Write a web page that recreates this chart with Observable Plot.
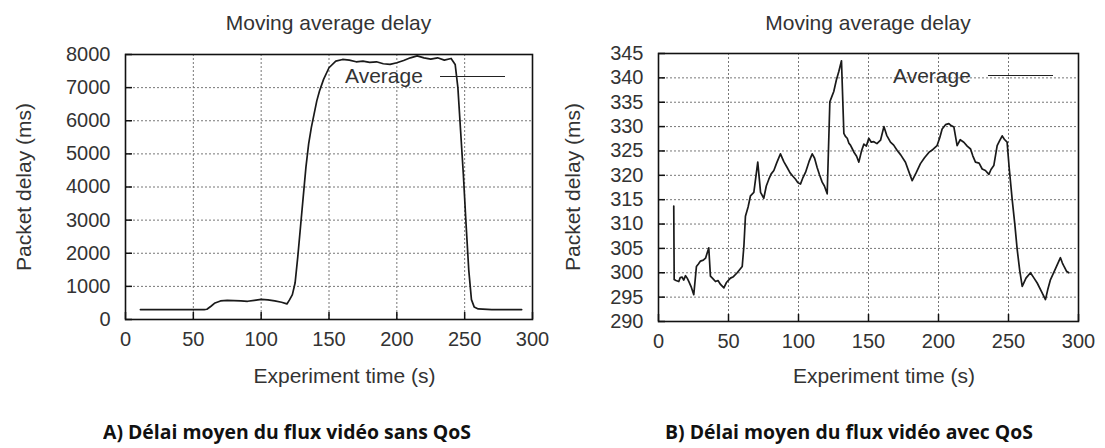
<!DOCTYPE html>
<html>
<head>
<meta charset="utf-8">
<script src="https://cdn.jsdelivr.net/npm/d3@7"></script>
<script src="https://cdn.jsdelivr.net/npm/@observablehq/plot@0.6"></script>
<style>
  html, body { margin: 0; padding: 0; background: #fff; }
  #wrap { position: relative; width: 1105px; height: 448px; overflow: hidden; font-family: "Liberation Sans", Arial, sans-serif; }
  .panel { position: absolute; top: 0; }
  .lbl { position: absolute; font-size: 21px; line-height: 21px; color: #333; white-space: nowrap; }
  .caption { position: absolute; top: 419px; font-family: "Open Sans", "Noto Sans", sans-serif; font-weight: 700; font-size: 19px; color: #111; white-space: nowrap; transform-origin: 0 0; }
  .legline { position: absolute; height: 0; border-top: 1.6px solid #222; }
</style>
</head>
<body>
<div id="wrap"></div>
<script>
// ---- data ----
const chartTitle = "Moving average delay";
const xLabel = "Experiment time (s)";
const yLabel = "Packet delay (ms)";
const legendLabel = "Average";
const captionA = "A)  Délai moyen du flux vidéo sans QoS";
const captionB = "B)  Délai moyen du flux vidéo avec QoS";

const xTicks = [0, 50, 100, 150, 200, 250, 300];
const yTicksA = [0, 1000, 2000, 3000, 4000, 5000, 6000, 7000, 8000];
const yTicksB = [290, 295, 300, 305, 310, 315, 320, 325, 330, 335, 340, 345];

// Panel A: without QoS
const timeA = [11, 30, 50, 58, 60, 63, 66, 70, 75, 80, 85, 90, 95, 100, 105, 110, 115, 119,
  121, 123, 125, 127, 129, 131, 133, 135, 137, 139, 141, 143, 146, 150, 155, 160, 165, 170,
  175, 180, 185, 190, 195, 200, 205, 210, 215, 220, 225, 230, 235, 240, 243, 245, 247, 249,
  251, 253, 255, 257, 260, 270, 280, 292];
const delayA = [300, 300, 300, 300, 310, 400, 500, 560, 580, 570, 560, 550, 580, 610, 590, 560, 520, 470,
  600, 750, 1100, 1900, 2800, 3700, 4600, 5300, 5800, 6200, 6600, 6900, 7250, 7600, 7800, 7850, 7830, 7780,
  7800, 7760, 7780, 7720, 7700, 7750, 7820, 7900, 7960, 7900, 7860, 7900, 7830, 7880, 7700, 7000, 5700, 4400,
  2900, 1500, 600, 380, 320, 300, 300, 300];

// Panel B: with QoS
const timeB = [10.9, 11.2, 12.5, 14.5, 15.5, 16.9, 18, 19.3, 20.5, 21.7, 23.5, 25.2, 27.1, 28.5, 30, 32, 33.6, 35.9,
  37.1, 38.5, 40.7, 42.5, 44.3, 46.7, 48.5, 51.4, 53.5, 56.2, 59.8, 61, 62.1, 64, 65.7, 68.1, 70.9, 72.9,
  75.2, 77, 78.8, 80.5, 82.4, 84.5, 87.1, 89.5, 91.9, 94, 96, 97.9, 99.5, 101.4, 103, 105, 107.5, 109.8, 111.5,
  113.3, 115, 116.9, 118.5, 120.5, 122.4, 124, 125.2, 127, 128.8, 130.7, 132.4, 133.5, 134.8, 136, 137.1, 138.5,
  139.5, 141.5, 143.1, 145, 146.7, 148.5, 150.2, 152, 153.8, 156, 158.6, 161, 163, 165.7, 168, 170.5, 173,
  176.4, 179, 181.2, 184, 187.1, 190, 193.1, 196, 199, 201, 202.6, 205, 207.4, 209, 211, 213.3, 215.5, 218.1,
  220.5, 222.9, 224.5, 226.4, 229, 231.2, 233.5, 236, 237.5, 239.5, 241.9, 243.5, 245.5, 247, 249, 250.5,
  252.6, 254.5, 256.2, 258, 259.8, 262.5, 265.7, 268, 270.5, 273.5, 276.4, 278, 280, 283.5, 287.1, 288.5,
  289.5, 291.5, 293.1];
const delayB = [313.7, 298.6, 298.4, 298.2, 299.0, 299.1, 298.5, 299.4, 298.9, 298.2, 297.0, 295.5, 301.3, 301.8, 302.4, 302.6, 303.0, 305.1,
  299.3, 298.9, 298.2, 298.4, 297.6, 296.9, 298.0, 298.9, 299.2, 300.0, 301.3, 305.5, 311.6, 313.5, 315.8, 316.5, 322.7, 316.5,
  315.3, 317.8, 319.2, 320.3, 321.0, 322.6, 324.4, 322.8, 321.6, 320.5, 319.8, 319.2, 318.5, 318.2, 319.4, 320.6, 322.8, 324.4, 323.5,
  321.6, 320.1, 318.6, 317.8, 316.2, 335.1, 336.3, 337.2, 339.5, 341.3, 343.5, 328.6, 328.0, 327.6, 326.6, 326.2, 325.4,
  324.8, 323.9, 322.7, 325.0, 326.4, 326.0, 327.6, 326.8, 326.9, 326.5, 327.2, 330.0, 328.2, 326.8, 326.2, 325.1, 324.2,
  322.7, 320.6, 318.9, 320.5, 322.4, 323.6, 324.7, 325.3, 326.1, 327.8, 329.5, 330.4, 330.6, 330.2, 329.9, 326.1, 327.3, 326.8,
  326.0, 325.4, 324.0, 322.7, 322.5, 321.3, 321.0, 320.2, 321.2, 322.0, 326.1, 327.0, 328.1, 327.4, 326.8, 321.5,
  315.1, 310.0, 304.8, 300.5, 297.2, 298.9, 300.0, 299.0, 297.9, 296.2, 294.5, 296.5, 298.6, 300.8, 303.1, 302.0,
  301.4, 300.3, 300.0];

// ---- drawing ----
const wrap = document.getElementById("wrap");

function addLabel(text, left, top, transform) {
  const d = document.createElement("div");
  d.className = "lbl";
  d.textContent = text;
  d.style.left = left + "px";
  d.style.top = top + "px";
  if (transform) d.style.transform = transform;
  wrap.appendChild(d);
  return d;
}

function panel({time, delay, yTicks, yDomain, width, height, margins, left}) {
  const fw = width - margins.left - margins.right;
  const fh = height - margins.top - margins.bottom;
  const data = time.map((t, i) => ({t, v: delay[i]}));
  const gx = xTicks.slice(1, -1).map(d => ({d}));
  const gy = yTicks.slice(1, -1).map(d => ({d}));
  const tx = xTicks.map(d => ({d}));
  const ty = yTicks.map(d => ({d}));
  const gridStyle = {stroke: "#777", strokeOpacity: 1, strokeWidth: 1, strokeDasharray: "2,2"};
  const tickStyle = {stroke: "#111", strokeOpacity: 1, strokeWidth: 1.5};
  const chart = Plot.plot({
    width, height,
    marginLeft: margins.left, marginRight: margins.right,
    marginTop: margins.top, marginBottom: margins.bottom,
    style: {fontFamily: "Liberation Sans", fontSize: "20px", color: "#333", background: "transparent", overflow: "visible"},
    x: {domain: [0, 300]},
    y: {domain: yDomain},
    marks: [
      Plot.ruleX(gx, {x: "d", ...gridStyle}),
      Plot.ruleY(gy, {y: "d", ...gridStyle}),
      Plot.tickX(tx, {x: "d", insetTop: fh - 7, ...tickStyle}),
      Plot.tickY(ty, {y: "d", insetRight: fw - 7, ...tickStyle}),
      Plot.line(data, {x: "t", y: "v", stroke: "#1a1a1a", strokeWidth: 1.7}),
      Plot.frame({stroke: "#111", strokeWidth: 1.6}),
      Plot.axisX({ticks: xTicks, tickSize: 0, tickPadding: 12, label: null, fontSize: 20, tickFormat: d => String(d)}),
      Plot.axisY({ticks: yTicks, tickSize: 0, tickPadding: 15, fontSize: 20, label: null, tickFormat: d => String(d)})
    ]
  });
  const div = document.createElement("div");
  div.className = "panel";
  div.style.left = left + "px";
  div.appendChild(chart);
  wrap.appendChild(div);
  return {x0: left + margins.left, x1: left + width - margins.right, y0: margins.top, y1: height - margins.bottom};
}

const A = panel({time: timeA, delay: delayA, yTicks: yTicksA, yDomain: [0, 8000], width: 552, height: 400,
       margins: {left: 125, right: 20, top: 54, bottom: 81}, left: 0});
const B = panel({time: timeB, delay: delayB, yTicks: yTicksB, yDomain: [290, 345], width: 553, height: 400,
       margins: {left: 106, right: 27, top: 53, bottom: 79}, left: 552});

// titles, axis labels, legends (real text)
[[A, 23, 345], [B, 572, 893]].forEach(([f, ylx, legx]) => {
  const cx = (f.x0 + f.x1) / 2;
  const cy = (f.y0 + f.y1) / 2;
  addLabel(chartTitle, cx, 12, "translateX(-50%)");
  addLabel(xLabel, cx + 16, 365, "translateX(-50%)");
  addLabel(yLabel, ylx, cy, "translate(-50%, -50%) rotate(-90deg)");
  addLabel(legendLabel, legx, 65);
});

// legend sample lines
[[440, 505, 75.5], [988, 1053, 75]].forEach(([x1, x2, y]) => {
  const l = document.createElement("div");
  l.className = "legline";
  l.style.left = x1 + "px"; l.style.width = (x2 - x1) + "px"; l.style.top = y + "px";
  wrap.appendChild(l);
});

// captions
[[captionA, 103, 368], [captionB, 665, 368]].forEach(([txt, x, w]) => {
  const c = document.createElement("div");
  c.className = "caption";
  c.textContent = txt;
  c.style.left = x + "px";
  wrap.appendChild(c);
  const bw = c.getBoundingClientRect().width;
  if (bw > 0) c.style.transform = `scaleX(${w / bw})`;
});
</script>
</body>
</html>
